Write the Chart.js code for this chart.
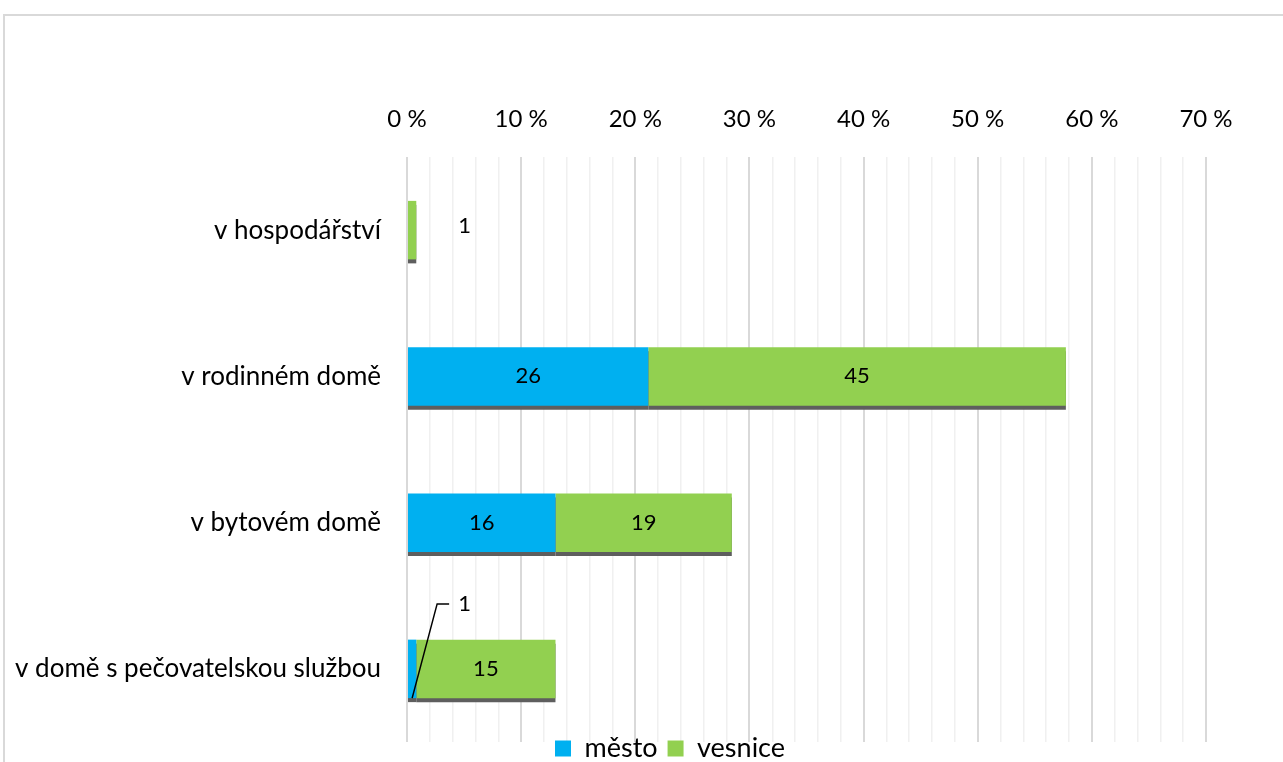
<!DOCTYPE html>
<html lang="cs">
<head>
<meta charset="utf-8">
<script src="https://cdn.jsdelivr.net/npm/chart.js@4/dist/chart.umd.min.js"></script>
<style>
  html, body { margin: 0; padding: 0; background: #fff; overflow: hidden; }
  #frame {
    position: absolute; left: 3px; top: 14px;
    width: 1330px; height: 773px;
    border-left: 2px solid #d9d9d9; border-top: 2px solid #d9d9d9;
  }
  canvas { display: block; }
</style>
</head>
<body>
<div id="frame"><canvas id="bydleni" width="1330" height="773"></canvas></div>
<script>
const kategorie = ['v hospodářství', 'v rodinném domě', 'v bytovém domě', 'v domě s pečovatelskou službou'];
const mesto = [0, 26, 16, 1];
const vesnice = [1, 45, 19, 15];
const osaMax = 70;
const osaKrok = 2;

// bars are drawn as a share of all answers, labels show the counts
const celkem = mesto.concat(vesnice).reduce((a, b) => a + b, 0);
const podil = arr => arr.map(v => v / celkem * 100);
const pocty = [mesto, vesnice];

Chart.defaults.font.family = 'Lato';
Chart.defaults.color = '#000';

// dark drop shadow under each bar
const stin = {
  id: 'stin',
  beforeDatasetDraw(chart) {
    const ctx = chart.ctx;
    ctx.save();
    ctx.shadowColor = '#5e5e5e';
    ctx.shadowOffsetX = 0;
    ctx.shadowOffsetY = 4;
    ctx.shadowBlur = 0;
  },
  afterDatasetDraw(chart) {
    chart.ctx.restore();
  }
};

// count labels; thin segments get the label outside
const popisky = {
  id: 'popisky',
  afterDatasetsDraw(chart) {
    const ctx = chart.ctx;
    ctx.save();
    ctx.font = '22px Lato';
    ctx.fillStyle = '#000';
    ctx.strokeStyle = '#000';
    ctx.lineWidth = 1.5;
    ctx.textBaseline = 'middle';
    chart.data.datasets.forEach((ds, di) => {
      chart.getDatasetMeta(di).data.forEach((bar, i) => {
        const n = pocty[di][i];
        if (!n) return;
        const text = String(n);
        const w = bar.x - bar.base;
        if (w > ctx.measureText(text).width + 8) {
          ctx.textAlign = 'center';
          ctx.fillText(text, (bar.x + bar.base) / 2, bar.y);
          return;
        }
        ctx.textAlign = 'left';
        const dalsi = pocty.slice(di + 1).some(arr => arr[i] > 0);
        if (!dalsi) {
          ctx.fillText(text, bar.x + 42, bar.y - 4);
        } else {
          const cx = (bar.x + bar.base) / 2;
          const ly = bar.y - 65;
          ctx.beginPath();
          ctx.moveTo(cx, bar.y + bar.height / 2);
          ctx.lineTo(cx + 25, ly);
          ctx.lineTo(cx + 37, ly);
          ctx.stroke();
          ctx.fillText(text, cx + 46, ly);
        }
      });
    });
    ctx.restore();
  }
};

// pull the legend up a little, close to the plot
const legendaNahoru = {
  id: 'legendaNahoru',
  afterLayout(chart) {
    chart.legend.top -= 17;
    chart.legend.bottom -= 17;
  }
};

new Chart(document.getElementById('bydleni'), {
  type: 'bar',
  data: {
    labels: kategorie,
    datasets: [{
      label: 'město',
      data: podil(mesto),
      backgroundColor: '#00b0f0',
      barPercentage: 0.4,
      categoryPercentage: 1
    }, {
      label: 'vesnice',
      data: podil(vesnice),
      backgroundColor: '#92d050',
      barPercentage: 0.4,
      categoryPercentage: 1
    }]
  },
  options: {
    indexAxis: 'y',
    responsive: false,
    animation: false,
    layout: { padding: 0 },
    scales: {
      x: {
        position: 'top',
        stacked: true,
        min: 0,
        max: osaMax,
        border: { display: false },
        grid: {
          drawTicks: false,
          color: c => c.tick && c.tick.value % 10 === 0 ? '#d9d9d9' : '#f0f0f0',
          lineWidth: c => c.tick && c.tick.value % 10 === 0 ? 2 : 1.5
        },
        ticks: {
          stepSize: osaKrok,
          autoSkip: false,
          maxRotation: 0,
          padding: 23,
          font: { size: 24 },
          callback: v => v % 10 === 0 ? v + ' %' : ''
        },
        // fixed height above the plot and empty space on the right
        afterFit(s) { s.height = 141; s.paddingLeft = 0; s.paddingRight = 129; }
      },
      y: {
        stacked: true,
        border: { display: false },
        grid: { display: false, drawTicks: false },
        ticks: { padding: 26, font: { size: 26 } },
        afterFit(s) { s.width = 402; }
      }
    },
    plugins: {
      tooltip: { enabled: false },
      legend: {
        position: 'bottom',
        labels: { boxWidth: 16, boxHeight: 16, padding: 10, font: { size: 27 } }
      }
    }
  },
  plugins: [stin, popisky, legendaNahoru]
});
</script>
</body>
</html>
